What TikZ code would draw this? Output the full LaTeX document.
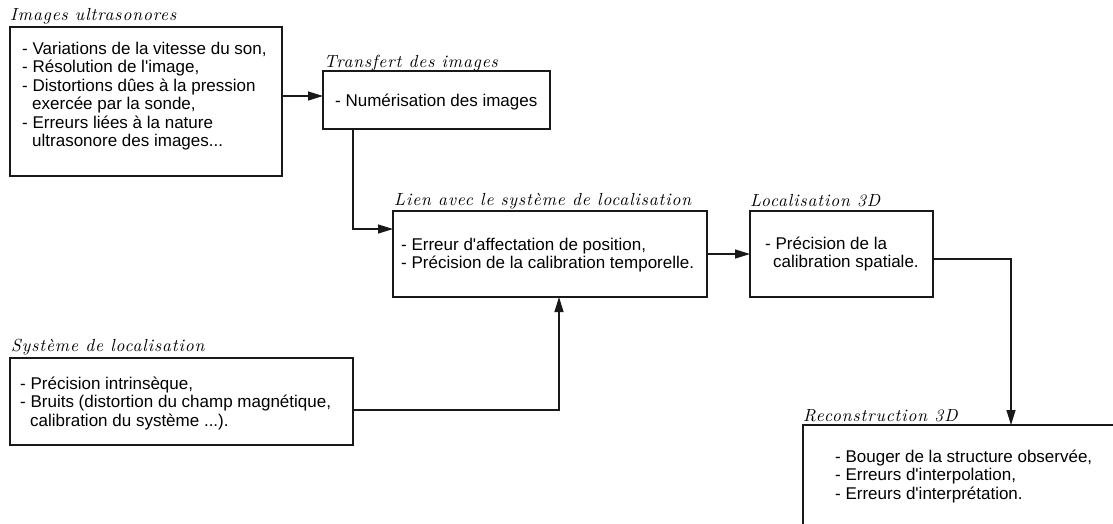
\documentclass[tikz,border=0pt]{standalone}
\usepackage{fontspec}
\newfontfamily\bodyfont{Liberation Sans}
\newfontfamily\titlefont[LetterSpace=5]{lmroman10-italic.otf}
\usetikzlibrary{arrows.meta,calc}
\newcommand\firstl{\rule{0pt}{16pt}}
\begin{document}
\begin{tikzpicture}[x=1pt,y=-1pt,
  box/.style={draw=black!90,line width=1.2pt,inner sep=0pt,outer sep=0pt,anchor=north west,rectangle},
  body/.style={anchor=north west,inner sep=0pt,align=left,font=\bodyfont\fontsize{17}{18.5}\selectfont},
  ttl/.style={anchor=base west,inner sep=0pt,font=\titlefont\fontsize{17.5}{20}\selectfont},
  conn/.style={draw=black!90,line width=1.2pt,-{Triangle[length=15pt,width=9pt]}},
]
\useasboundingbox (0,0) rectangle (1113,523);
\clip (0,0) rectangle (1113,523);
\fill[white] (0,0) rectangle (1113,523);

% boxes
\node[box,minimum width=272pt,minimum height=149pt] (b1) at (10,27) {};
\node[box,minimum width=227pt,minimum height=58pt]  (b2) at (323,71) {};
\node[box,minimum width=314pt,minimum height=86pt]  (b3) at (393,211) {};
\node[box,minimum width=183pt,minimum height=86pt]  (b4) at (750,211) {};
\node[box,minimum width=330pt,minimum height=130pt] (b5) at (803,425) {};
\node[box,minimum width=343pt,minimum height=87pt]  (b6) at (10,358) {};

% titles
\node[ttl] (t1) at (10,20)  {Images ultrasonores};
\node[ttl] (t2) at (324,67) {Transfert des images};
\node[ttl] (t3) at (394,205) {Lien avec le système de localisation};
\node[ttl] (t4) at (750,206) {Localisation 3D};
\node[ttl] (t6) at (11,351) {Système de localisation};
\node[ttl] (t5) at (803,421) {Reconstruction 3D};

% texts
\node[body] (x1) at (22,38) {\firstl- Variations de la vitesse du son,\\
- Résolution de l'image,\\
- Distortions dûes à la pression\\
\hspace*{10pt}exercée par la sonde,\\
- Erreurs liées à la nature\\
\hspace*{10pt}ultrasonore des images...};
\node[body] (x2) at (335,90.5) {\firstl- Numérisation des images};
\node[body] (x3) at (401,234) {\firstl- Erreur d'affectation de position,\\
- Précision de la calibration temporelle.};
\node[body] (x4) at (765,233) {\firstl- Précision de la\\
\hspace*{8pt}calibration spatiale.};
\node[body] (x6) at (20,373) {\firstl- Précision intrinsèque,\\
- Bruits (distortion du champ magnétique,\\
\hspace*{10pt}calibration du système ...).};
\node[body] (x5) at (835,446) {\firstl- Bouger de la structure observée,\\
- Erreurs d'interpolation,\\
- Erreurs d'interprétation.};

% connectors
\draw[conn] ([yshift=5.5pt]b1.east) -- ([yshift=5.5pt]b1.east -| b2.west);
\draw[conn] ([xshift=30pt]b2.south west) |- ([yshift=25pt]b3.west);
\draw[conn] (b3.east) -- (b3.east -| b4.west);
\draw[conn] ([yshift=-5pt]b4.east) -| ([xshift=208pt]b5.north west);
\draw[conn] ([yshift=-8.5pt]b6.east) -| ([xshift=166pt]b3.south west);
\end{tikzpicture}
\end{document}
